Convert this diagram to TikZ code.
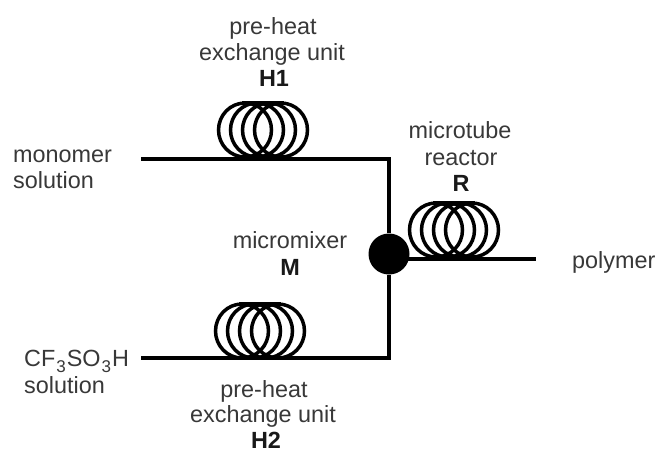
\documentclass[tikz,border=0pt]{standalone}
\usepackage{fontspec}
\setmainfont{Liberation Sans}
\tikzset{
  lbl/.style={inner sep=0pt,anchor=base,font=\fontsize{23.4}{26}\selectfont,text=black!78},
  lblL/.style={lbl,anchor=base west},
  lblB/.style={lbl,font=\fontsize{23.4}{26}\selectfont\bfseries,text=black!90},
  pipe/.style={line width=4pt,line cap=butt,line join=miter},
  turn/.style={line width=3.5pt,draw=black},
  mixer/.style={circle,fill=black,minimum size=41pt,inner sep=0pt}
}
\newcommand{\coilat}[2]{%
  \foreach \dx in {-18,-6,6,18}{\draw[turn] ({#1+\dx},#2) ellipse [x radius=26.5,y radius=27];}%
  \draw[line width=4pt] ({#1-21},{#2-27}) -- ({#1+21},{#2-27});
}
\newcommand{\sbs}[1]{\hspace{1pt}\raisebox{-6pt}{\fontsize{17}{17}\selectfont #1}\hspace{1pt}}
\begin{document}
\begin{tikzpicture}[x=1pt,y=-1pt]
\useasboundingbox (0,0) rectangle (655,453);
\fill[white] (0,0) rectangle (655,453);
\coordinate (inA) at (141,159);
\coordinate (cornerA) at (389,159);
\coordinate (inB) at (141,358);
\coordinate (cornerB) at (389,358);
\coordinate (outR) at (536,259);
\node[mixer] (M) at (389,254) {};
\coordinate (Mout) at (389,259);
\coilat{263}{130}
\coilat{260}{331}
\coilat{454}{230}
\draw[pipe] (inA) -- (cornerA) -- (M);
\draw[pipe] (inB) -- (cornerB) -- (M);
\draw[pipe] (Mout) -- (outR);
\node[lbl] (h1a) at (273,34) {pre-heat};
\node[lbl] (h1b) at (272,60) {exchange unit};
\node[lblB] (h1c) at (274,86) {H1};
\node[lblL] (mon1) at (13,162) {monomer};
\node[lblL] (mon2) at (13,188) {solution};
\node[lbl] (r1) at (460,138) {microtube};
\node[lbl] (r2) at (461,165) {reactor};
\node[lblB] (r3) at (461,191) {R};
\node[lbl] (m1) at (290,248) {micromixer};
\node[lblB] (m2) at (290,275) {M};
\node[lblL] (poly) at (572,268) {polymer};
\node[lblL] (cf) at (24,366) {CF\sbs{3}SO\sbs{3}H};
\node[lblL] (sol) at (24,393) {solution};
\node[lbl] (h2a) at (264,397) {pre-heat};
\node[lbl] (h2b) at (263,422) {exchange unit};
\node[lblB] (h2c) at (266,448) {H2};
\end{tikzpicture}
\end{document}
